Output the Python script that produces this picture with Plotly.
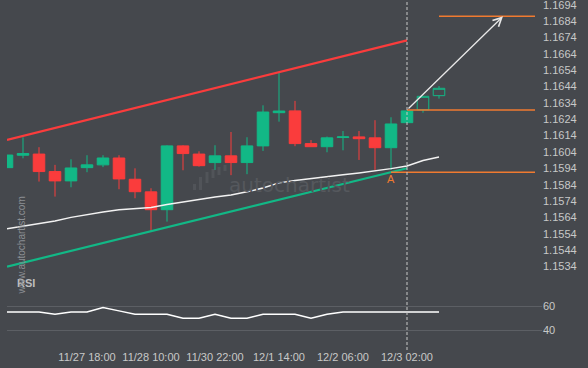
import plotly.graph_objects as go

# ---------------- data ----------------
candle_idx = list(range(28))
open_ = [1.15944, 1.16020, 1.16027, 1.15920, 1.15863, 1.15944, 1.15961, 1.16003, 1.15873, 1.15796,
         1.15687, 1.16077, 1.16027, 1.15975, 1.16016, 1.15975, 1.16077, 1.16280, 1.16291, 1.16091,
         1.16072, 1.16128, 1.16132, 1.16126, 1.16066, 1.16219, 1.16297, 1.16384]
high = [1.16021, 1.16130, 1.16069, 1.15961, 1.15995, 1.16020, 1.16020, 1.16020, 1.15940, 1.15818,
        1.16081, 1.16081, 1.16044, 1.16081, 1.16162, 1.16130, 1.16325, 1.16525, 1.16352, 1.16113,
        1.16134, 1.16168, 1.16168, 1.16234, 1.16252, 1.16293, 1.16382, 1.16443]
low = [1.15944, 1.16001, 1.15859, 1.15767, 1.15824, 1.15916, 1.15947, 1.15812, 1.15757, 1.15557,
       1.15614, 1.15928, 1.15950, 1.15930, 1.15898, 1.15904, 1.16046, 1.16225, 1.16075, 1.16072,
       1.16038, 1.16050, 1.15991, 1.15930, 1.15930, 1.16217, 1.16280, 1.16366]
close = [1.16021, 1.16030, 1.15920, 1.15863, 1.15942, 1.15961, 1.16003, 1.15875, 1.15797, 1.15687,
         1.16077, 1.16030, 1.15956, 1.16016, 1.15975, 1.16077, 1.16284, 1.16290, 1.16091, 1.16072,
         1.16126, 1.16132, 1.16121, 1.16066, 1.16211, 1.16291, 1.16380, 1.16429]
n_solid = 26  # candles up to the breakout; later ones are drawn hollow

ma = [1.15570, 1.15585, 1.15600, 1.15618, 1.15640, 1.15658, 1.15673, 1.15686, 1.15695, 1.15701,
      1.15719, 1.15734, 1.15753, 1.15765, 1.15777, 1.15796, 1.15820, 1.15851, 1.15866, 1.15879,
      1.15890, 1.15901, 1.15912, 1.15924, 1.15938, 1.15954, 1.15988, 1.16009]

rsi = [55.2, 55.2, 55.2, 53.4, 55.2, 55.2, 59.0, 56.2, 53.4, 53.4,
       53.4, 50.0, 50.0, 53.4, 50.0, 50.0, 53.4, 53.4, 53.4, 50.0,
       53.4, 55.2, 55.2, 55.2, 55.2, 55.2, 55.2, 55.2]

x_tick_idx = [5, 9, 13, 17, 21, 25]
x_tick_text = ["11/27 18:00", "11/28 10:00", "11/30 22:00", "12/1 14:00", "12/2 06:00", "12/3 02:00"]

price_ticks = [round(1.1534 + 0.001 * i, 4) for i in range(17)]
rsi_ticks = [40, 60]

channel_idx = [0, 25]
upper_channel = [1.16113, 1.16722]
lower_channel = [1.15339, 1.15940]

level_prices = [1.16869, 1.16297, 1.15916]
level_start = [27, 25, 24]
level_end = 33

arrow_idx = [25, 31]
arrow_price = [1.16297, 1.16869]
breakout_idx = 25
point_label = "A"
point_idx = 24

# ---------------- style ----------------
BG = "#45484d"
GREEN = "#12b886"
RED = "#fa3c3c"
ORANGE = "#f07a30"
TXT = "#c8c8c8"
FONT = "Liberation Sans, Arial, sans-serif"

W, H = 588, 368
L, R, T, B = 7, 46, 0, 23
plot_h = H - T - B  # 345
price_bottom_px = 280
rsi_top_px = 284

# price scale: 1.1694 at pixel 4.7, 16360 px per unit
px_per_unit = 16360.0
p_top = 1.1694 + 4.7 / px_per_unit
p_bot = 1.1694 - (price_bottom_px - 4.7) / px_per_unit
# rsi scale: 60 at 306.3, 40 at 330.3
r_top = 60 + (306.3 - rsi_top_px) / 1.2
r_bot = 40 - (plot_h - 330.3) / 1.2

fig = go.Figure()

fig.add_trace(go.Candlestick(
    x=candle_idx[:n_solid], open=open_[:n_solid], high=high[:n_solid],
    low=low[:n_solid], close=close[:n_solid],
    increasing=dict(line=dict(color=GREEN, width=1), fillcolor=GREEN),
    decreasing=dict(line=dict(color=RED, width=1), fillcolor=RED),
    whiskerwidth=0, yaxis="y", xaxis="x", showlegend=False, hoverinfo="skip"))
fig.add_trace(go.Candlestick(
    x=candle_idx[n_solid:], open=open_[n_solid:], high=high[n_solid:],
    low=low[n_solid:], close=close[n_solid:],
    increasing=dict(line=dict(color=GREEN, width=1), fillcolor=BG),
    decreasing=dict(line=dict(color=RED, width=1), fillcolor=BG),
    whiskerwidth=0, yaxis="y", xaxis="x", showlegend=False, hoverinfo="skip"))

fig.add_trace(go.Scatter(x=candle_idx, y=ma, mode="lines",
                         line=dict(color="#f2f2f2", width=1.5), showlegend=False, hoverinfo="skip"))
fig.add_trace(go.Scatter(x=channel_idx, y=upper_channel, mode="lines",
                         line=dict(color=RED, width=2.2), showlegend=False, hoverinfo="skip"))
fig.add_trace(go.Scatter(x=channel_idx, y=lower_channel, mode="lines",
                         line=dict(color=GREEN, width=2.2), showlegend=False, hoverinfo="skip"))
for lp, ls in zip(level_prices, level_start):
    fig.add_trace(go.Scatter(x=[ls, level_end], y=[lp, lp], mode="lines",
                             line=dict(color=ORANGE, width=1.5), showlegend=False, hoverinfo="skip"))

fig.add_trace(go.Scatter(x=candle_idx, y=rsi, mode="lines", xaxis="x", yaxis="y2",
                         line=dict(color="#ffffff", width=1.5), showlegend=False, hoverinfo="skip"))

def px_x(px):
    return (px - L) / (W - L - R)

def px_y(py):
    return (plot_h - py) / plot_h

annotations = [
    dict(x=arrow_idx[1], y=arrow_price[1], ax=arrow_idx[0], ay=arrow_price[0],
         xref="x", yref="y", axref="x", ayref="y", text="", showarrow=True,
         arrowhead=5, arrowsize=1.3, arrowwidth=1.3, arrowcolor="#e8e8e8"),
    dict(x=point_idx, y=level_prices[2], xref="x", yref="y", text=point_label,
         showarrow=False, yshift=-7, font=dict(color=ORANGE, size=11, family=FONT)),
    dict(x=px_x(15), y=px_y(290.7), xref="paper", yref="paper", text="<b>RSI</b>",
         showarrow=False, xanchor="left", font=dict(color="#bdbdbd", size=11, family=FONT)),
    dict(x=px_x(13), y=px_y(297), xref="paper", yref="paper", text="www.autochartist.com",
         showarrow=False, textangle=-90, font=dict(color="#8c8f94", size=10, family=FONT)),
    dict(x=px_x(227), y=px_y(185), xref="paper", yref="paper", text="autochartist",
         showarrow=False, xanchor="left", font=dict(color="#55585d", size=20, family="DejaVu Sans, sans-serif")),
]

shapes = [
    dict(type="line", xref="x", yref="paper", x0=breakout_idx, x1=breakout_idx,
         y0=px_y(350), y1=1, line=dict(color="#c8c8c8", width=1, dash="3px,2px")),
]
# logo bars of the watermark
for (x0, x1, y0, y1) in [(193, 196, 184, 190), (199, 202, 177, 190), (205.5, 208.5, 172, 183),
                         (211.5, 214.5, 169, 178), (217.5, 220.5, 167, 175), (223.5, 226.5, 165, 171)]:
    shapes.append(dict(type="rect", xref="paper", yref="paper", x0=px_x(x0), x1=px_x(x1),
                       y0=px_y(y1), y1=px_y(y0), line=dict(width=0), fillcolor="#515459", layer="below"))

fig.update_layout(
    width=W, height=H, margin=dict(l=L, r=R, t=T, b=B, autoexpand=False),
    paper_bgcolor=BG, plot_bgcolor=BG,
    boxgap=0.15, boxgroupgap=0.15,
    font=dict(family=FONT, color=TXT, size=11),
    xaxis=dict(range=[0, (W - L - R) / 16.0], showgrid=False, zeroline=False, showline=False,
               tickmode="array", tickvals=x_tick_idx, ticktext=x_tick_text, ticks="",
               rangeslider=dict(visible=False), anchor="y2", automargin=False,
               ticklabelstandoff=4, tickfont=dict(size=11, color=TXT)),
    yaxis=dict(domain=[px_y(price_bottom_px), 1], range=[p_bot, p_top], side="right",
               showgrid=False, zeroline=False, showline=False, tickmode="array",
               tickvals=price_ticks, ticktext=[f"{v:.4f}" for v in price_ticks], ticks="",
               automargin=False, ticklabeloverflow="allow",
               tickfont=dict(size=11, color=TXT), anchor="x"),
    yaxis2=dict(domain=[0, px_y(rsi_top_px)], range=[r_bot, r_top], side="right",
                showgrid=True, gridcolor="#5c5f64", gridwidth=1, zeroline=False, showline=False,
                tickmode="array", tickvals=rsi_ticks, ticks="", automargin=False,
                tickfont=dict(size=11, color=TXT), anchor="x"),
    annotations=annotations, shapes=shapes, showlegend=False,
)

fig.write_html("out.html", config={"displayModeBar": False},
               post_script="document.body.style.margin='0';document.body.style.padding='0';"
                           "document.body.style.background='" + BG + "';")
